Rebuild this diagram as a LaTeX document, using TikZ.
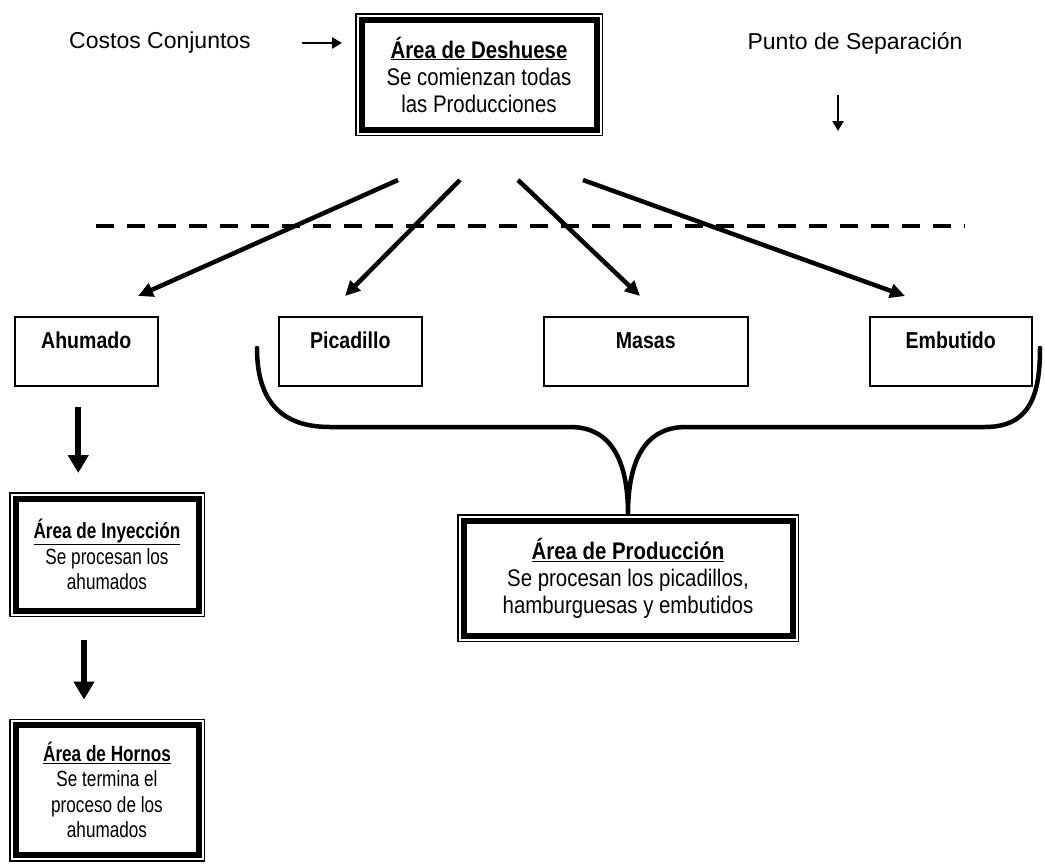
\documentclass[tikz,border=0pt]{standalone}
\usepackage{fontspec}
\setmainfont{Liberation Sans}
\newfontfamily\narrowfont{Liberation Sans}[FakeStretch=0.85]
\newfontfamily\slimfont{Liberation Sans}[FakeStretch=0.78]
\usetikzlibrary{arrows.meta, positioning}

\tikzset{
  areabox/.style={fill=white, draw, line width=6pt, outer sep=6.5pt, inner sep=2pt, align=center,
    preaction={draw, line width=13pt}, preaction={draw=white, line width=10pt},
    font=\narrowfont\fontsize{24}{27}\selectfont},
  smallarea/.style={areabox, font=\slimfont\fontsize{22}{25.5}\selectfont},
  catbox/.style={draw, line width=1.5pt, anchor=north west, inner ysep=0pt,
    minimum height=69pt, text height=32pt, text depth=37pt,
    font=\narrowfont\bfseries\fontsize{23}{26}\selectfont},
  flowarrow/.style={line width=4.5pt, -{Triangle[length=15pt, width=14pt]}},
  downarrow/.style={line width=6pt, -{Triangle[length=18pt, width=20pt]}},
  smallarrow/.style={line width=2.5pt, -{Triangle[length=10pt, width=11pt]}},
  sepline/.style={line width=4.5pt, dash pattern=on 18pt off 13pt},
  bracket/.style={line width=4.5pt, line cap=round},
  plainlabel/.style={font=\fontsize{23}{26}\selectfont}
}

\begin{document}
\begin{tikzpicture}[x=1pt, y=-1pt]
\fill[white] (0,0) rectangle (1045,868);
\useasboundingbox (0,0) rectangle (1045,868);

% top row
\node[areabox, minimum width=235pt, minimum height=110pt] (desh) at (479,74.5)
  {\underline{\textbf{Área de Deshuese}}\\Se comienzan todas\\las Producciones};
\node[plainlabel] (costos) at (160,43) {Costos Conjuntos};
\node[plainlabel] (punto) at (855,43) {Punto de Separación};
\draw[smallarrow, shorten <=48pt, shorten >=13pt] (costos.east) -- (desh.west |- costos.east);
\coordinate (p1) at (838,95);
\coordinate (p2) at (838,131);
\draw[smallarrow] (p1) -- (p2);

% separation line
\draw[sepline] (96,226) -- (965,226);

% products
\node[catbox, minimum width=143pt] (ahumado) at (14,316) {Ahumado};
\node[catbox, minimum width=143pt] (picadillo) at (278,316) {Picadillo};
\node[catbox, minimum width=204pt] (masas) at (543,316) {Masas};
\node[catbox, minimum width=162pt] (embutido) at (869,316) {Embutido};

\coordinate (s1) at (398,180);
\coordinate (s2) at (460,180);
\coordinate (s3) at (518,180);
\coordinate (s4) at (583,180);
\coordinate (e1) at (138,296);
\coordinate (e2) at (345,296);
\coordinate (e3) at (640,296);
\coordinate (e4) at (905,296);
\foreach \i in {1,...,4}
  \draw[flowarrow] (s\i) -- (e\i);

% areas
\node[areabox, minimum width=329pt, minimum height=115pt] (prod) at (628,578)
  {\underline{\textbf{Área de Producción}}\\Se procesan los picadillos,\\hamburguesas y embutidos};
\node[smallarea, minimum width=183pt, minimum height=112pt] (iny) at (107,554.5)
  {\underline{\textbf{Área de Inyección}}\\Se procesan los\\ahumados};
\node[smallarea, minimum width=183pt, minimum height=130pt] (hornos) at (107,790)
  {\underline{\textbf{Área de Hornos}}\\Se termina el\\proceso de los\\ahumados};

\draw[downarrow, shorten <=20pt, shorten >=19pt]
  ([xshift=-8pt]ahumado.south) -- ([xshift=-8pt]ahumado.south |- iny.north);
\draw[downarrow, shorten <=23pt, shorten >=19pt]
  ([xshift=-23pt]iny.south) -- ([xshift=-23pt]iny.south |- hornos.north);

% brace
\coordinate (brL) at (257,348);
\coordinate (brR) at (1040,348);
\draw[bracket] (brL) .. controls (257,400) and (280,427) .. (330,427) -- (570,427)
  .. controls (612,427) and (628,462) .. (prod.north)
  .. controls (628,462) and (644,427) .. (686,427) -- (985,427)
  .. controls (1030,427) and (1040,395) .. (brR);
\end{tikzpicture}
\end{document}
